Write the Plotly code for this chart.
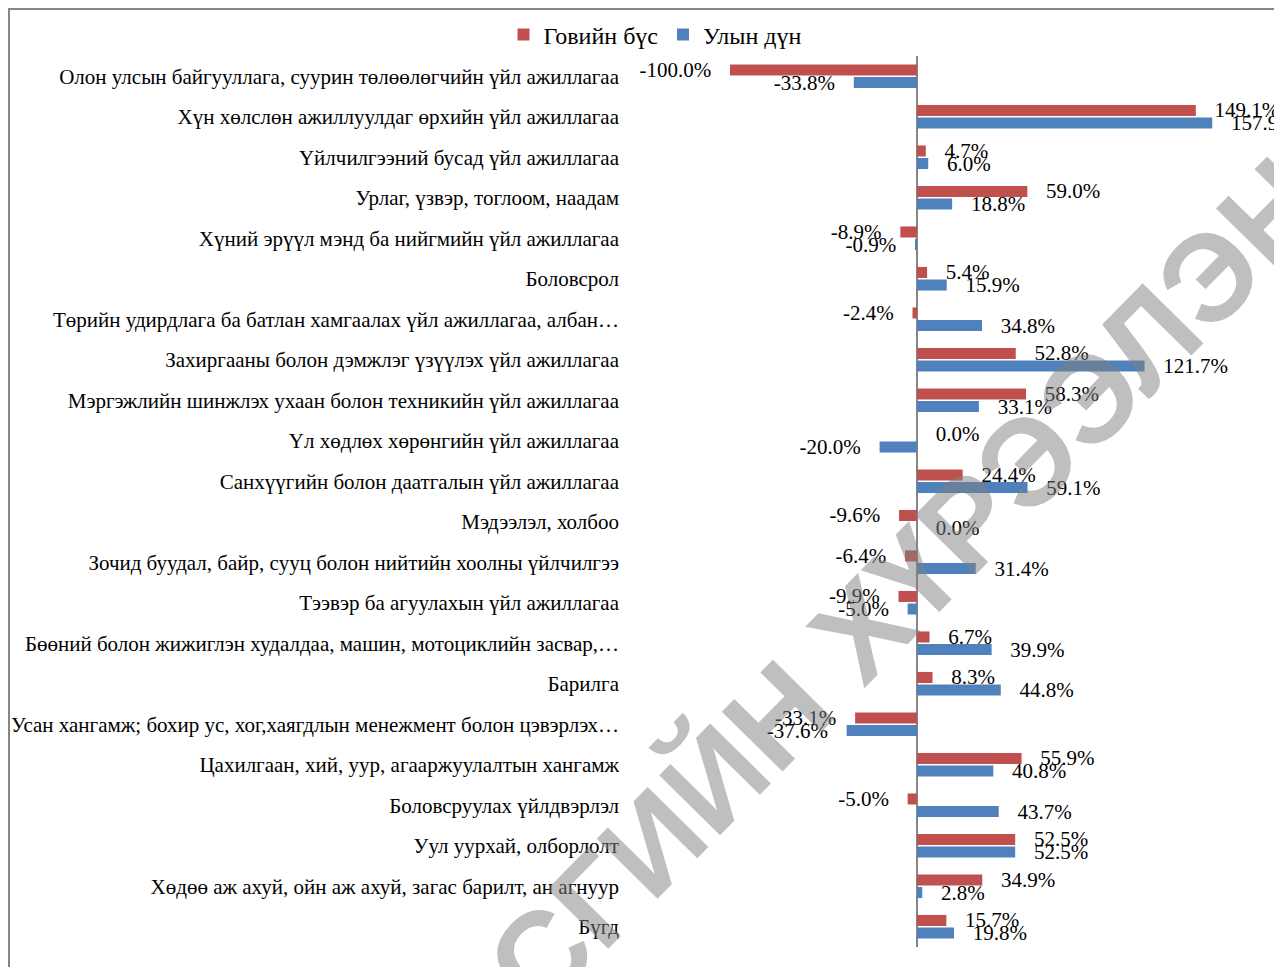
import plotly.graph_objects as go

categories = [
    "Олон улсын байгууллага, суурин төлөөлөгчийн үйл ажиллагаа",
    "Хүн хөлслөн ажиллуулдаг өрхийн үйл ажиллагаа",
    "Үйлчилгээний бусад үйл ажиллагаа",
    "Урлаг, үзвэр, тоглоом, наадам",
    "Хүний эрүүл мэнд ба нийгмийн үйл ажиллагаа",
    "Боловсрол",
    "Төрийн удирдлага ба батлан хамгаалах үйл ажиллагаа, албан…",
    "Захиргааны болон дэмжлэг үзүүлэх үйл ажиллагаа",
    "Мэргэжлийн шинжлэх ухаан болон техникийн үйл ажиллагаа",
    "Үл хөдлөх хөрөнгийн үйл ажиллагаа",
    "Санхүүгийн болон даатгалын үйл ажиллагаа",
    "Мэдээлэл, холбоо",
    "Зочид буудал, байр, сууц болон нийтийн хоолны үйлчилгээ",
    "Тээвэр ба агуулахын үйл ажиллагаа",
    "Бөөний болон жижиглэн худалдаа, машин, мотоциклийн засвар,…",
    "Барилга",
    "Усан хангамж; бохир ус, хог,хаягдлын менежмент болон цэвэрлэх…",
    "Цахилгаан, хий, уур, агааржуулалтын хангамж",
    "Боловсруулах үйлдвэрлэл",
    "Уул уурхай, олборлолт",
    "Хөдөө аж ахуй, ойн аж ахуй, загас барилт, ан агнуур",
    "Бүгд",
]

gobi = [-100.0, 149.1, 4.7, 59.0, -8.9, 5.4, -2.4, 52.8, 58.3, 0.0, 24.4,
        -9.6, -6.4, -9.9, 6.7, 8.3, -33.1, 55.9, -5.0, 52.5, 34.9, 15.7]
national = [-33.8, 157.9, 6.0, 18.8, -0.9, 15.9, 34.8, 121.7, 33.1, -20.0, 59.1,
            0.0, 31.4, -5.0, 39.9, 44.8, -37.6, 40.8, 43.7, 52.5, 2.8, 19.8]

series_names = ["Говийн бүс", "Улын дүн"]
colors = ["#C0504D", "#4F81BD"]

W, H = 1282, 967
OFF = 8  # page body margin
ML, MR, MT, MB = 628, 0, 48, 28
PW, PH = W - ML - MR, H - MT - MB
ZERO_X = 917 - OFF
PX_PER_UNIT = 1.87


def fmt(v):
    s = f"{v:.1f}%"
    if v < 0:
        return s + "\u00a0\u2002"
    return "\u2002\u00a0" + s


def px_to_paper(px, py):
    # px, py measured on screen
    fx, fy = px - OFF, py - OFF
    return (fx - ML) / PW, (H - MB - fy) / PH


fig = go.Figure()
for name, vals, col in zip(series_names, [gobi, national], colors):
    fig.add_trace(go.Bar(
        y=categories, x=vals, name=name, orientation="h",
        marker=dict(color=col),
        text=[fmt(v) for v in vals],
        textposition="outside",
        constraintext="none",
        cliponaxis=False,
        textfont=dict(family="Liberation Serif", size=21, color="#000000"),
        hoverinfo="skip",
    ))

wx, wy = px_to_paper(905, 584)
bx0, by1 = px_to_paper(9, 9)

xmin = -(ZERO_X - ML) / PX_PER_UNIT
xmax = (W - ZERO_X) / PX_PER_UNIT

fig.update_layout(
    template="none",
    width=W, height=H,
    margin=dict(l=ML, r=MR, t=MT, b=MB, autoexpand=False),
    paper_bgcolor="white", plot_bgcolor="white",
    barmode="group", bargap=0.38, bargroupgap=0.12,
    font=dict(family="Liberation Serif", size=21, color="#000000"),
    showlegend=True,
    legend=dict(
        orientation="h", xref="container", yref="container",
        x=(655 - OFF) / W, y=1 - (35 - OFF) / H, xanchor="center", yanchor="middle",
        font=dict(family="Liberation Serif", size=24, color="#000000"),
        traceorder="normal", itemwidth=30, bgcolor="rgba(0,0,0,0)",
    ),
    xaxis=dict(
        range=[xmin, xmax], showgrid=False, showticklabels=False,
        ticks="", zeroline=True, zerolinecolor="#868686", zerolinewidth=2,
        showline=False, automargin=False, fixedrange=True,
    ),
    yaxis=dict(
        autorange="reversed", showgrid=False, ticks="", showline=False,
        zeroline=False, automargin=False, ticklabelstandoff=16,
        tickfont=dict(family="Liberation Serif", size=21, color="#000000"),
    ),
    shapes=[dict(
        type="rect", xref="paper", yref="paper",
        x0=bx0, x1=1.6, y0=-0.5, y1=by1,
        line=dict(color="#868686", width=2), fillcolor="rgba(0,0,0,0)",
    )],
    annotations=[dict(
        text="СГИЙН ХҮРЭЭЛЭН", xref="paper", yref="paper",
        x=wx, y=wy, xanchor="center", yanchor="middle", showarrow=False,
        textangle=-45.5,
        font=dict(family="Liberation Sans", size=124, color="rgba(128,128,128,0.5)",
                  weight="bold"),
    )],
)

fig.write_html("out.html")
